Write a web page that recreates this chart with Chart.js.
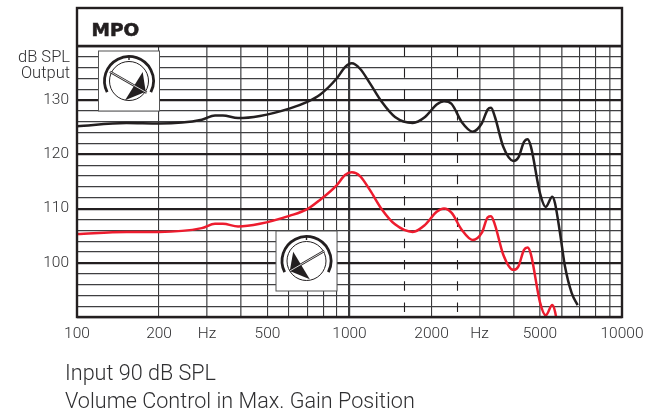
<!DOCTYPE html>
<html>
<head>
<meta charset="utf-8">
<title>MPO</title>
<script src="https://cdn.jsdelivr.net/npm/chart.js@4"></script>
<style>
  html, body { margin: 0; padding: 0; background: #fff; }
  canvas { display: block; }
</style>
</head>
<body>
<canvas id="mpo-chart" width="659" height="416"></canvas>
<script>
// Values
const freqs = [100, 152, 200, 287, 321, 343, 390, 469, 605, 700, 779, 897, 963, 1019, 1093, 1189, 1313, 1469, 1706, 1893, 2089, 2222, 2371, 2580, 2832, 3056, 3215, 3306, 3418, 3667, 3992, 4163, 4369, 4507, 4634, 5002, 5248, 5549, 5677, 5923, 6178, 6538, 6877];
const maxGain = [125.2, 125.8, 125.7, 126.4, 127.2, 127.2, 126.7, 127.1, 128.5, 129.7, 131.0, 134.0, 136.1, 136.8, 135.8, 133.1, 129.7, 126.9, 125.8, 126.9, 129.2, 129.8, 129.3, 126.0, 124.2, 125.7, 128.3, 128.6, 126.9, 121.4, 118.8, 119.4, 122.3, 122.8, 121.4, 112.8, 110.3, 112.2, 111.0, 105.5, 99.3, 94.4, 92.2];
const minGain = [105.3, 105.7, 105.7, 106.4, 107.2, 107.2, 106.7, 107.2, 108.7, 109.9, 111.6, 114.3, 116.2, 116.7, 116.0, 113.4, 109.9, 107.1, 105.7, 107.0, 109.4, 110.0, 109.2, 106.1, 104.2, 105.5, 108.4, 108.6, 107.0, 101.5, 98.7, 99.3, 102.4, 102.8, 101.5, 92.7, 90.3, 92.2, 91.0, 85.5];

const xTicks = [100, 200, 300, 400, 500, 600, 700, 800, 900, 1000, 2000, 3000, 4000, 5000, 6000, 7000, 8000, 9000, 10000];
const xLabels = { 100: '100', 200: '200', 300: 'Hz', 500: '500', 1000: '1000', 2000: '2000', 3000: 'Hz', 5000: '5000', 10000: '10000' };
const yLabels = [100, 110, 120, 130];
const dashedFreqs = [1600, 2500];

const grayFreqs = [300, 400, 3000, 4000, 5000, 6000, 9000];
const inkColor = '#231f20';
const textColor = '#2f2f31';
const sansFont = 'Roboto, sans-serif';

function toPoints(values) {
  return values.map((v, i) => ({ x: freqs[i], y: v }));
}

// Volume dial icon: box, scale arc, knob and pointer
function drawDial(ctx, cx, cy, pointer, arrow) {
  ctx.save();
  ctx.fillStyle = '#fff';
  ctx.strokeStyle = '#555';
  ctx.lineWidth = 1;
  ctx.fillRect(cx - 30.5, cy - 30, 61, 60);
  ctx.strokeRect(cx - 30.5, cy - 30, 61, 60);

  ctx.strokeStyle = inkColor;
  ctx.lineWidth = 2.8;
  ctx.beginPath();
  ctx.arc(cx, cy, 24.5, Math.PI * 0.85, Math.PI * 2.15);
  ctx.stroke();
  ctx.lineWidth = 1.4;
  ctx.beginPath();
  ctx.moveTo(cx, cy - 25);
  ctx.lineTo(cx, cy - 21);
  ctx.stroke();
  ctx.lineWidth = 1;
  ctx.beginPath();
  ctx.arc(cx, cy, 19.5, 0, Math.PI * 2);
  ctx.stroke();

  ctx.fillStyle = inkColor;
  ctx.beginPath();
  ctx.moveTo(cx + arrow[0], cy + arrow[1]);
  ctx.lineTo(cx + arrow[2], cy + arrow[3]);
  ctx.lineTo(cx + arrow[4], cy + arrow[5]);
  ctx.closePath();
  ctx.fill();

  ctx.lineWidth = 2.4;
  ctx.beginPath();
  ctx.moveTo(cx + pointer[0], cy + pointer[1]);
  ctx.lineTo(cx + pointer[2], cy + pointer[3]);
  ctx.stroke();
  ctx.strokeStyle = '#fff';
  ctx.lineWidth = 0.8;
  ctx.stroke();
  ctx.restore();
}

const decorPlugin = {
  id: 'decor',
  beforeDatasetsDraw(chart) {
    const { ctx, scales: { x }, chartArea: area } = chart;
    ctx.save();
    ctx.strokeStyle = inkColor;
    ctx.lineWidth = 1.1;
    ctx.setLineDash([9.5, 11.8]);
    dashedFreqs.forEach((f) => {
      const px = Math.round(x.getPixelForValue(f)) - 0.5;
      ctx.beginPath();
      ctx.moveTo(px, area.top + 1);
      ctx.lineTo(px, area.bottom - 5);
      ctx.stroke();
    });
    ctx.restore();
  },
  afterDraw(chart) {
    const { ctx, chartArea: area } = chart;
    const frameTop = 8;
    ctx.save();
    ctx.strokeStyle = inkColor;
    ctx.lineWidth = 2.4;
    ctx.strokeRect(area.left, frameTop, area.right - area.left, area.bottom - frameTop);
    ctx.beginPath();
    ctx.moveTo(area.left, area.top);
    ctx.lineTo(area.right, area.top);
    ctx.stroke();

    ctx.fillStyle = inkColor;
    ctx.textBaseline = 'alphabetic';
    ctx.textAlign = 'left';
    ctx.font = 'bold 18.5px "DejaVu Sans", sans-serif';
    ctx.lineWidth = 0.6;
    ctx.fillText('MPO', 91.5, 36);
    ctx.strokeText('MPO', 91.5, 36);

    ctx.fillStyle = textColor;
    ctx.textAlign = 'right';
    ctx.font = '300 16.5px ' + sansFont;
    ctx.fillText('dB SPL', 70, 62);
    ctx.fillText('Output', 70, 78);

    ctx.textAlign = 'left';
    ctx.font = '300 21.6px ' + sansFont;
    ctx.fillText('Input 90 dB SPL', 65, 380);
    ctx.fillText('Volume Control in Max. Gain Position', 65, 408);
    ctx.restore();

    drawDial(ctx, 129, 81, [-19, -9.3, 17.7, 11.7], [-4, 19.3, 13.7, -9, 16.7, 10.7]);
    drawDial(ctx, 306.5, 261, [-16.7, 10, 17.7, -10], [-16.7, 10, -13.3, -9.3, 3.3, 18.3]);
  }
};

new Chart(document.getElementById('mpo-chart'), {
  type: 'line',
  data: {
    datasets: [
      { label: 'Max', data: toPoints(maxGain), borderColor: inkColor, borderWidth: 2.5, pointRadius: 0, cubicInterpolationMode: 'monotone' },
      { label: 'Red', data: toPoints(minGain), borderColor: '#ed1c2e', borderWidth: 2.5, pointRadius: 0, cubicInterpolationMode: 'monotone' }
    ]
  },
  plugins: [decorPlugin],
  options: {
    responsive: false,
    animation: false,
    layout: { padding: { top: 46, right: 37, bottom: 0, left: 0 } },
    plugins: {
      legend: { display: false },
      title: { display: false },
      tooltip: { enabled: false }
    },
    scales: {
      x: {
        type: 'logarithmic',
        min: 100,
        max: 10000,
        afterBuildTicks(scale) {
          scale.ticks = xTicks.map((v) => ({ value: v }));
        },
        afterFit(scale) {
          scale.height = 99;
        },
        border: { display: false },
        grid: {
          drawTicks: false,
          color: (c) => (grayFreqs.includes(c.tick.value) ? '#6d6e70' : '#3a3a3c'),
          lineWidth: (c) => {
            if (c.tick.value === 1000) return 2.2;
            return grayFreqs.includes(c.tick.value) ? 1.6 : 1.1;
          }
        },
        ticks: {
          autoSkip: false,
          maxRotation: 0,
          padding: 8,
          color: textColor,
          font: { family: sansFont, size: 15.5, weight: '300' },
          callback: (v) => xLabels[v] || ''
        }
      },
      y: {
        min: 90,
        max: 140,
        afterFit(scale) {
          scale.width = 77;
        },
        border: { display: false },
        grid: {
          drawTicks: false,
          color: (c) => (c.tick.value % 10 === 0 ? '#231f20' : '#3f3f41'),
          lineWidth: (c) => (c.tick.value % 10 === 0 ? 2.2 : 1.2)
        },
        ticks: {
          stepSize: 2,
          autoSkip: false,
          padding: 8,
          color: textColor,
          font: { family: sansFont, size: 15.5, weight: '300' },
          callback: (v) => (yLabels.includes(v) ? String(v) : '')
        }
      }
    }
  }
});
</script>
</body>
</html>
